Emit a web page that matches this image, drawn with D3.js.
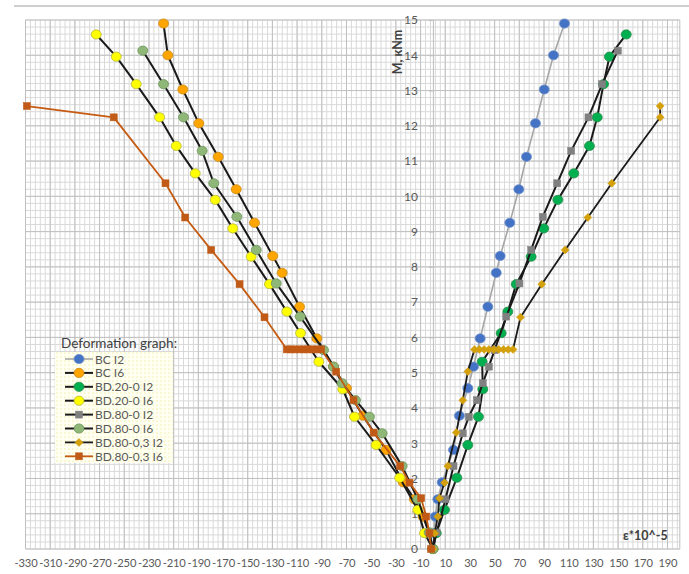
<!DOCTYPE html>
<html><head><meta charset="UTF-8">
<script src="https://d3js.org/d3.v7.min.js"></script>
<style>
body { margin: 0; background: #fff; }
text { font-family: Lato, "Open Sans", sans-serif; }
.grid-minor { stroke: #d9d9d9; stroke-width: 1; }
.grid-major { stroke: #c0c0c0; stroke-width: 1; }
.axis text { fill: #595959; font-size: 12px; }
.axis path, .axis line { stroke: #bfbfbf; }
.xaxis text { font-size: 11.2px; letter-spacing: -0.2px; }
.leg text { fill: #595959; font-size: 12px; }
</style>
</head><body>
<div id="chart"></div>
<script>
// moment levels (kNm) and strains (e*10^-5)
var M_BC  = [0, 0.45, 0.92, 1.41, 1.89, 2.81, 3.78, 4.56, 5.17, 5.97, 6.87, 7.83, 8.31, 9.25, 10.2, 11.12, 12.07, 13.03, 14.0, 14.9];
var BC_I2 = [0, 1, 2, 4, 7.5, 16.7, 21.5, 28.3, 32.9, 38.3, 44.5, 51.3, 54.5, 62.3, 69.6, 75.8, 83.1, 90.2, 97.7, 106.6];
var BC_I6 = [0, -3, -8, -15, -24, -38, -56.8, -70, -80.5, -94, -108, -122.1, -129.7, -144.5, -159.3, -173.9, -189.6, -202.6, -214.7, -218.2];

var M_BD20  = [0, 0.45, 1.11, 2.02, 2.95, 3.75, 4.53, 5.31, 6.12, 6.73, 7.51, 8.29, 9.09, 9.9, 10.65, 11.43, 12.24, 13.18, 13.96, 14.59];
var BD20_I2 = [0, 2.7, 9.4, 19.4, 28.3, 36.9, 40.4, 39.9, 55.3, 60.7, 67.5, 79.6, 89.8, 101.2, 114.1, 126.8, 133.1, 138.2, 143, 156.6];
var BD20_I6 = [0, -6.8, -12.2, -26.9, -46, -63.5, -73, -92.4, -107.2, -118.3, -132.4, -147.2, -162.1, -176.3, -192.5, -207.9, -221.4, -240.3, -256.5, -272.7];

var M_BD80  = [0, 0.47, 1.41, 2.35, 3.28, 3.75, 4.22, 4.7, 5.17, 5.64, 6.59, 7.53, 8.48, 9.42, 10.37, 11.29, 12.24, 13.18, 14.13];
var BD80_I2 = [0, 3, 10.2, 16.7, 24.2, 29.1, 35.6, 40.4, 45.3, 50, 59.4, 70.1, 79.6, 89, 100.7, 112, 126, 137.1, 149.8];
var BD80_I6 = [0, -3, -12.2, -24.9, -41.1, -51.4, -62.7, -73.5, -80.5, -88.6, -107.5, -126.9, -143.1, -158.8, -177.5, -186.9, -202, -218.2, -235];

var M_BD803  = [0, 0.45, 0.92, 1.44, 1.88, 2.35, 3.3, 4.22, 5.03, 5.66, 5.66, 5.66, 5.66, 5.66, 5.66, 5.66, 5.66, 5.66, 6.57, 7.51, 8.48, 9.4, 10.37, 12.24, 12.56];
var BD803_I2 = [0, 1.5, 4, 5.3, 9.4, 12.1, 18.9, 24.2, 28.3, 33.7, 37.6, 41.5, 45.4, 49.3, 53.2, 57.1, 61, 64.9, 71, 88.2, 107.1, 125.5, 144.9, 184.1, 184.1];
var BD803_I6 = [-1.4, -2.8, -5.4, -9.5, -19, -26.5, -48, -64.3, -78.3, -90.5, -94, -97.5, -101, -104.5, -108, -111.5, -115, -118.3, -136.4, -156.6, -179.6, -200.6, -216.6, -258.5, -328.9];

var seriesNames = ["BC I2", "BC I6", "BD.20-0 I2", "BD.20-0 I6", "BD.80-0 I2", "BD.80-0 I6", "BD.80-0,3 I2", "BD.80-0,3 I6"];
var xTickValues = d3.range(-330, 191, 20);
var yTickValues = d3.range(0, 16, 1);

// series styling
var series = [
  {name: seriesNames[0], m: M_BC,    e: BC_I2,    line: "#a6a6a6", lw: 1.6, shape: "circle",  fill: "#4472c4", stroke: "#6f8fc9"},
  {name: seriesNames[1], m: M_BC,    e: BC_I6,    line: "#1a1a1a", lw: 2,   shape: "circle",  fill: "#ffa500", stroke: "#c98a1c"},
  {name: seriesNames[2], m: M_BD20,  e: BD20_I2,  line: "#1a1a1a", lw: 2,   shape: "circle",  fill: "#00b050", stroke: "#2e8a4a"},
  {name: seriesNames[3], m: M_BD20,  e: BD20_I6,  line: "#1a1a1a", lw: 2,   shape: "circle",  fill: "#ffff00", stroke: "#b5b53a"},
  {name: seriesNames[4], m: M_BD80,  e: BD80_I2,  line: "#1a1a1a", lw: 2,   shape: "square",  fill: "#808080", stroke: "#808080"},
  {name: seriesNames[5], m: M_BD80,  e: BD80_I6,  line: "#1a1a1a", lw: 2,   shape: "circle",  fill: "#8fb878", stroke: "#6e9460"},
  {name: seriesNames[6], m: M_BD803, e: BD803_I2, line: "#1a1a1a", lw: 1.8, shape: "diamond", fill: "#d4a00c", stroke: "#d4a00c"},
  {name: seriesNames[7], m: M_BD803, e: BD803_I6, line: "#c55a11", lw: 1.8, shape: "square",  fill: "#c05a16", stroke: "#c05a16"}
];

var W = 689, H = 574;
var svg = d3.select("#chart").append("svg").attr("width", W).attr("height", H);

var x = d3.scaleLinear().domain([-330, 200]).range([25.5, 679.8]);
var y = d3.scaleLinear().domain([0, 15]).range([549, 20]);

// top border line
svg.append("line").attr("x1", 14).attr("x2", W).attr("y1", 6).attr("y2", 6)
  .attr("stroke", "#bfbfbf").attr("stroke-width", 1.5);

// gridlines
var grid = svg.append("g");
grid.selectAll(".vmin").data(d3.range(-330, 200.1, 4)).enter().append("line")
  .attr("class", "grid-minor").attr("x1", d => x(d)).attr("x2", d => x(d))
  .attr("y1", y(0)).attr("y2", y(15));
grid.selectAll(".hmin").data(d3.range(0, 75.1, 1).map(d => d / 5)).enter().append("line")
  .attr("class", "grid-minor").attr("y1", d => y(d)).attr("y2", d => y(d))
  .attr("x1", x(-330)).attr("x2", x(200));
grid.selectAll(".vmaj").data(xTickValues.concat([200])).enter().append("line")
  .attr("class", "grid-major").attr("x1", d => x(d)).attr("x2", d => x(d))
  .attr("y1", y(0)).attr("y2", y(15));
grid.selectAll(".hmaj").data(yTickValues).enter().append("line")
  .attr("class", "grid-major").attr("y1", d => y(d)).attr("y2", d => y(d))
  .attr("x1", x(-330)).attr("x2", x(200));

// axes
var xAxis = svg.append("g").attr("class", "axis xaxis")
  .attr("transform", "translate(0," + y(0) + ")")
  .call(d3.axisBottom(x).tickValues(xTickValues).tickSize(0).tickPadding(10)
    .tickFormat(d => String(d)));
xAxis.select(".domain").remove();

var yAxis = svg.append("g").attr("class", "axis")
  .attr("transform", "translate(" + x(0) + ",0)")
  .call(d3.axisLeft(y).tickValues(yTickValues).tickSize(4).tickPadding(11));

// axis titles
svg.append("text").attr("transform", "translate(402,52) rotate(-90)")
  .attr("text-anchor", "middle").attr("font-size", 12.5).attr("font-weight", "bold")
  .attr("fill", "#404040").text("M, кNm");
svg.append("text").attr("x", 623).attr("y", 540)
  .attr("font-size", 12.5).attr("font-weight", "bold")
  .attr("fill", "#404040").text("ε*10^-5");

// markers
function marker(sel, s) {
  if (s.shape === "circle") {
    sel.append("ellipse").attr("rx", 5).attr("ry", 4.6)
      .attr("fill", s.fill).attr("stroke", s.stroke).attr("stroke-width", 0.8);
  } else if (s.shape === "square") {
    sel.append("rect").attr("x", -3.5).attr("y", -3.5).attr("width", 7).attr("height", 7)
      .attr("fill", s.fill).attr("stroke", s.stroke).attr("stroke-width", 0.5);
  } else {
    sel.append("path").attr("d", "M0,-4L4,0L0,4L-4,0Z")
      .attr("fill", s.fill).attr("stroke", s.stroke).attr("stroke-width", 0.5);
  }
}

var line = d3.line().x(d => x(d[0])).y(d => y(d[1]));

series.forEach(function(s) {
  var pts = s.e.map((v, i) => [v, s.m[i]]);
  var g = svg.append("g");
  g.append("path").datum(pts).attr("d", line)
    .attr("fill", "none").attr("stroke", s.line).attr("stroke-width", s.lw)
    .attr("stroke-linejoin", "round");
  g.selectAll(".pt").data(pts).enter().append("g")
    .attr("transform", d => "translate(" + x(d[0]) + "," + y(d[1]) + ")")
    .each(function() { marker(d3.select(this), s); });
});

// legend
var defs = svg.append("defs");
var pat = defs.append("pattern").attr("id", "dots").attr("width", 4).attr("height", 4)
  .attr("patternUnits", "userSpaceOnUse");
pat.append("rect").attr("width", 4).attr("height", 4).attr("fill", "#fffff2");
pat.append("circle").attr("cx", 1).attr("cy", 1).attr("r", 0.7).attr("fill", "#f2ec9a");

svg.append("text").attr("x", 61).attr("y", 348).attr("font-size", 13.5)
  .attr("fill", "#404040").text("Deformation graph:");

var leg = svg.append("g").attr("class", "leg");
leg.append("rect").attr("x", 55).attr("y", 352).attr("width", 118).attr("height", 111)
  .attr("fill", "url(#dots)");
series.forEach(function(s, i) {
  var cy = 359 + i * 13.9;
  var g = leg.append("g").attr("transform", "translate(0," + cy + ")");
  g.append("line").attr("x1", 65).attr("x2", 93).attr("stroke", s.line).attr("stroke-width", s.lw);
  var mg = g.append("g").attr("transform", "translate(79,0)");
  marker(mg, s);
  g.append("text").attr("x", 95).attr("y", 4.5).text(s.name);
});
</script>
</body></html>
